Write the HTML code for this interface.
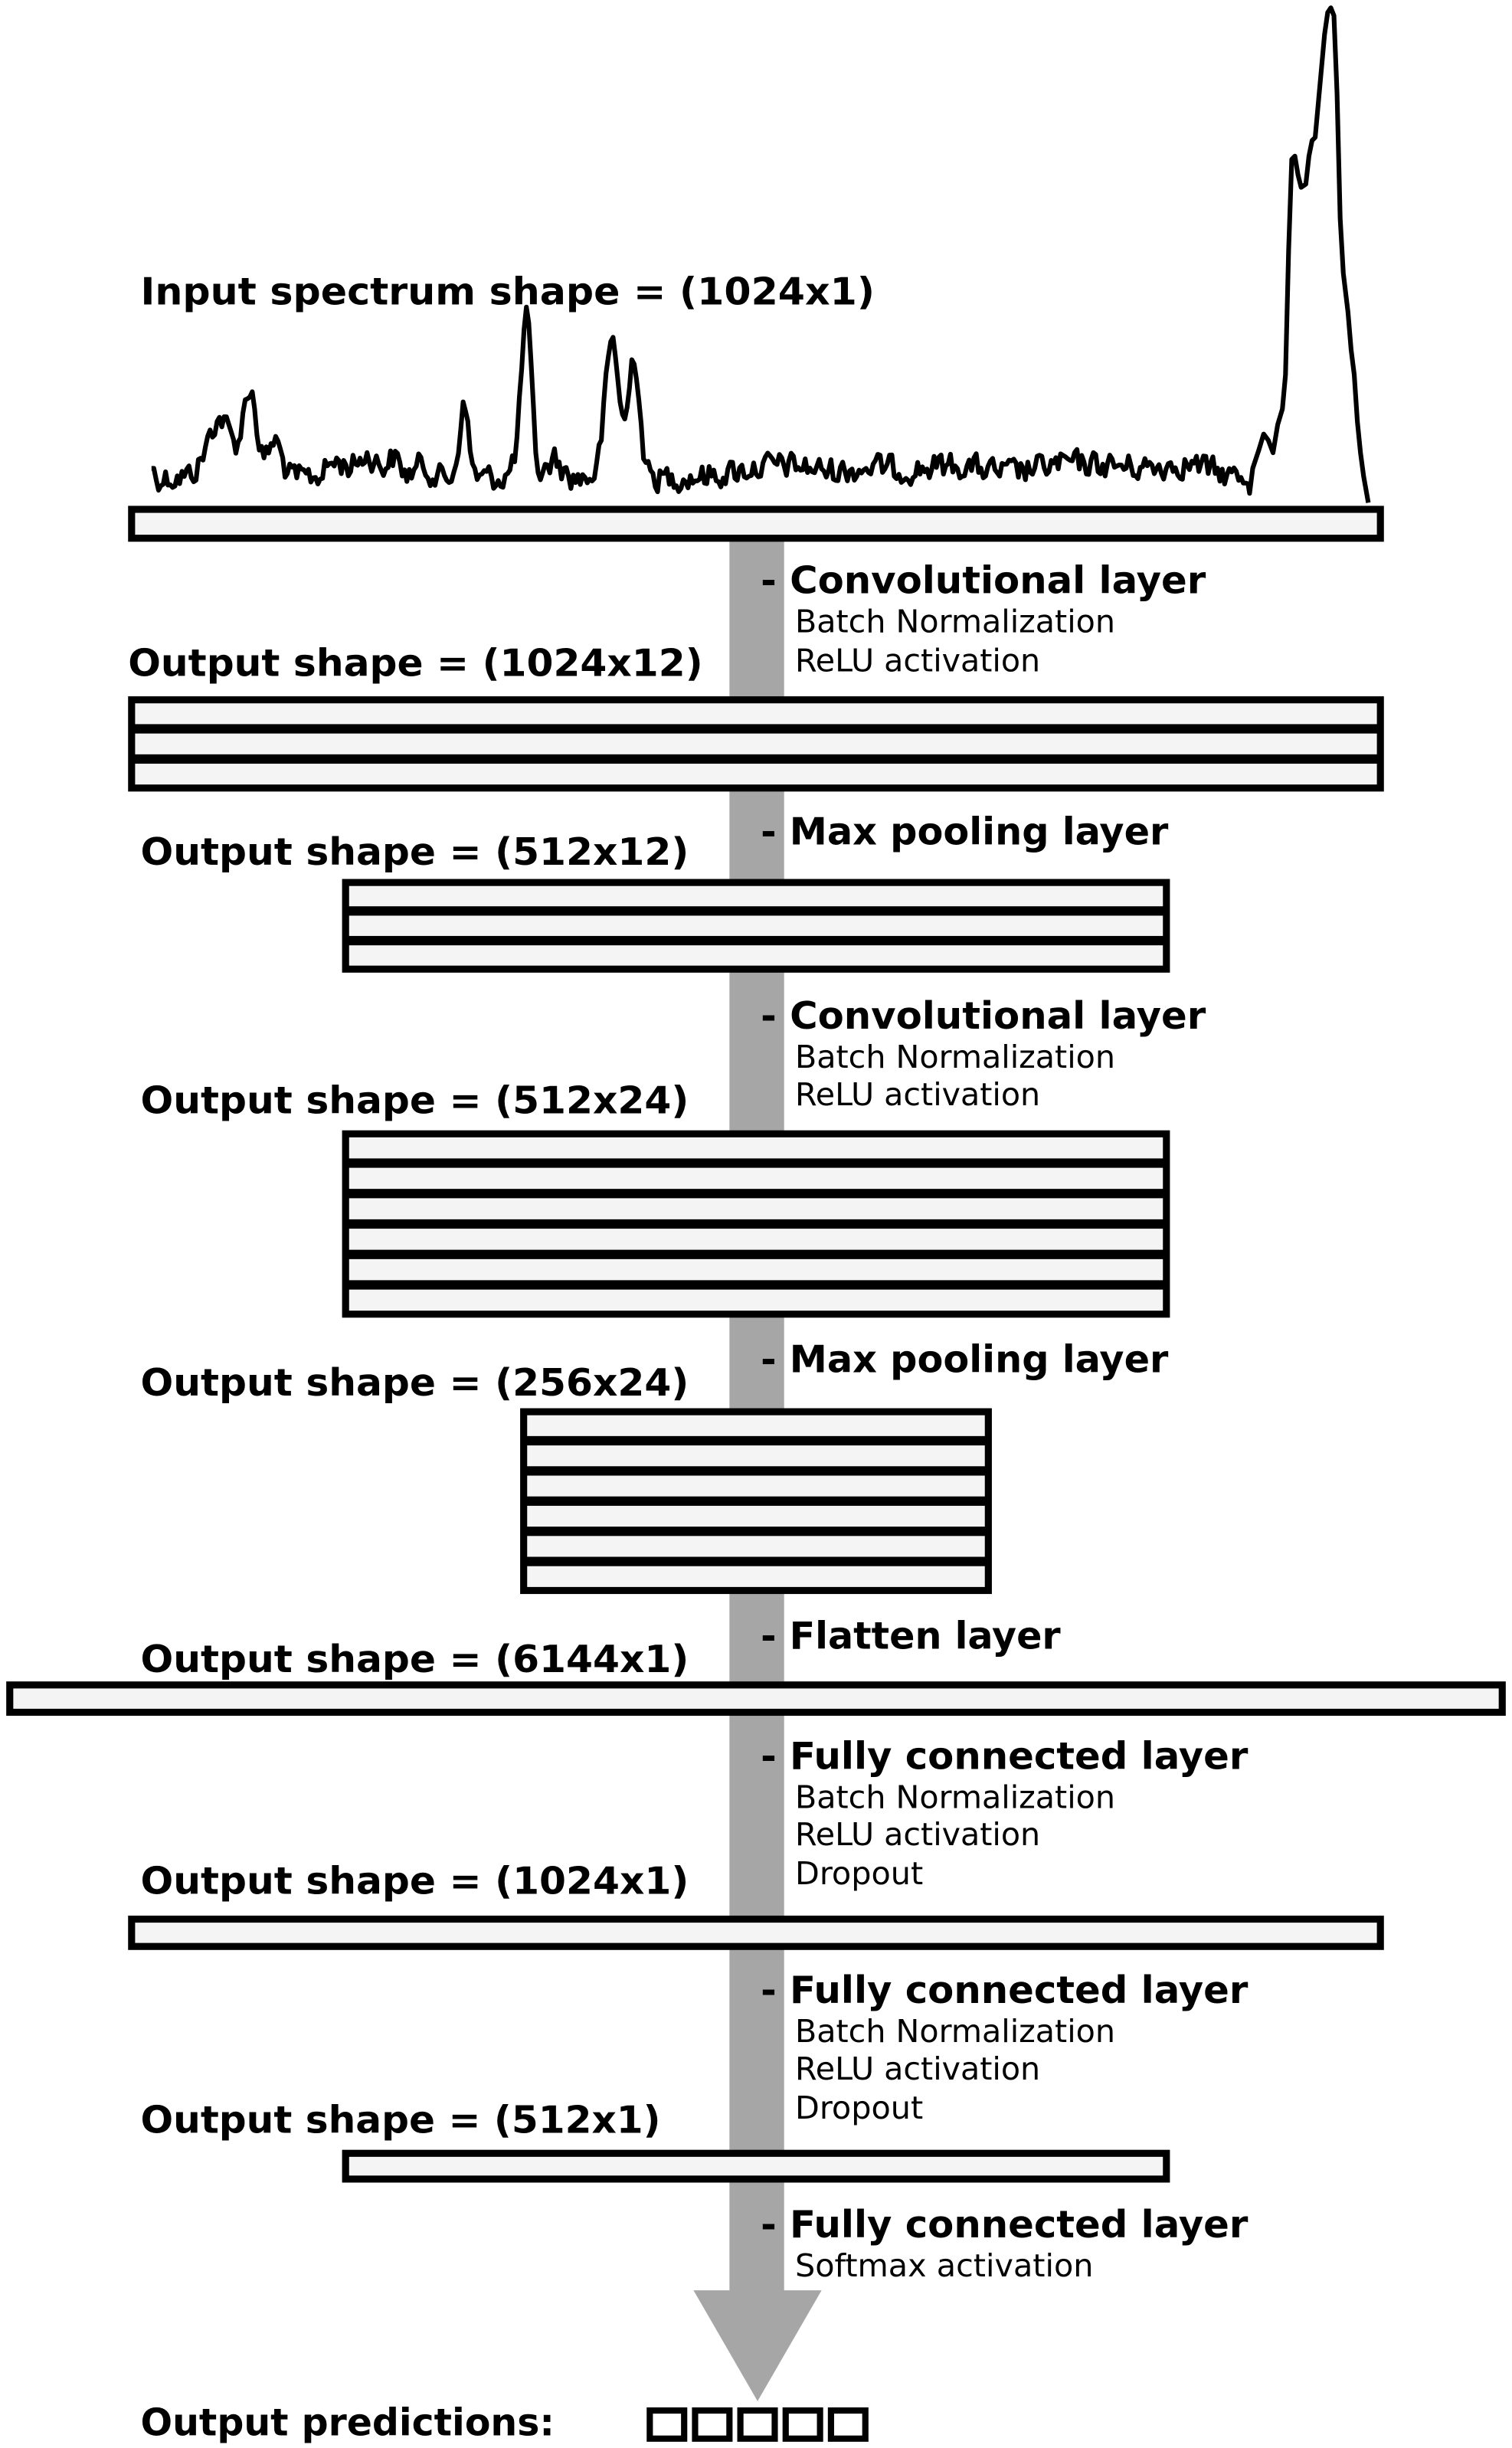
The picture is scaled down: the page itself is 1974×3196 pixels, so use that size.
<!DOCTYPE html>
<html><head><meta charset="utf-8">
<style>
html,body{margin:0;padding:0;background:#fff;}
svg{display:block;}
.b{font-family:"DejaVu Sans","Liberation Sans",sans-serif;font-weight:bold;font-size:24px;fill:#000;}
.r{font-family:"DejaVu Sans","Liberation Sans",sans-serif;font-size:20px;fill:#000;}
</style></head>
<body>
<svg id="s" width="1974" height="3196" viewBox="0 0 968 1568" preserveAspectRatio="none" xmlns="http://www.w3.org/2000/svg">
<rect width="968" height="1568" fill="#fff"/>
<rect x="467" y="340" width="35" height="1130" fill="#a6a6a6"/>
<polygon points="444,1467 526,1467 485,1538" fill="#a6a6a6"/>
<path id="spec" d="" fill="none" stroke="#000" stroke-width="3" stroke-linejoin="round"/>
<text class="b" x="90" y="195" textLength="470" lengthAdjust="spacingAndGlyphs">Input spectrum shape = (1024x1)</text>
<g id="boxes"></g>

<text class="b" x="487" y="380" textLength="285" lengthAdjust="spacingAndGlyphs">- Convolutional layer</text>
<text class="r" x="509" y="405" textLength="205" lengthAdjust="spacingAndGlyphs">Batch Normalization</text>
<text class="r" x="509" y="430" textLength="157" lengthAdjust="spacingAndGlyphs">ReLU activation</text>
<text class="b" x="82" y="433" textLength="368" lengthAdjust="spacingAndGlyphs">Output shape = (1024x12)</text>

<text class="b" x="487" y="541" textLength="261" lengthAdjust="spacingAndGlyphs">- Max pooling layer</text>
<text class="b" x="90" y="554" textLength="351" lengthAdjust="spacingAndGlyphs">Output shape = (512x12)</text>

<text class="b" x="487" y="659" textLength="285" lengthAdjust="spacingAndGlyphs">- Convolutional layer</text>
<text class="r" x="509" y="684" textLength="205" lengthAdjust="spacingAndGlyphs">Batch Normalization</text>
<text class="r" x="509" y="708" textLength="157" lengthAdjust="spacingAndGlyphs">ReLU activation</text>
<text class="b" x="90" y="713" textLength="351" lengthAdjust="spacingAndGlyphs">Output shape = (512x24)</text>

<text class="b" x="487" y="879" textLength="261" lengthAdjust="spacingAndGlyphs">- Max pooling layer</text>
<text class="b" x="90" y="894" textLength="351" lengthAdjust="spacingAndGlyphs">Output shape = (256x24)</text>

<text class="b" x="487" y="1056" textLength="192" lengthAdjust="spacingAndGlyphs">- Flatten layer</text>
<text class="b" x="90" y="1071" textLength="351" lengthAdjust="spacingAndGlyphs">Output shape = (6144x1)</text>

<text class="b" x="487" y="1133" textLength="312" lengthAdjust="spacingAndGlyphs">- Fully connected layer</text>
<text class="r" x="509" y="1158" textLength="205" lengthAdjust="spacingAndGlyphs">Batch Normalization</text>
<text class="r" x="509" y="1182" textLength="157" lengthAdjust="spacingAndGlyphs">ReLU activation</text>
<text class="r" x="509" y="1207" textLength="82" lengthAdjust="spacingAndGlyphs">Dropout</text>
<text class="b" x="90" y="1213" textLength="351" lengthAdjust="spacingAndGlyphs">Output shape = (1024x1)</text>

<text class="b" x="487" y="1283" textLength="312" lengthAdjust="spacingAndGlyphs">- Fully connected layer</text>
<text class="r" x="509" y="1308" textLength="205" lengthAdjust="spacingAndGlyphs">Batch Normalization</text>
<text class="r" x="509" y="1332" textLength="157" lengthAdjust="spacingAndGlyphs">ReLU activation</text>
<text class="r" x="509" y="1357" textLength="82" lengthAdjust="spacingAndGlyphs">Dropout</text>
<text class="b" x="90" y="1366" textLength="333" lengthAdjust="spacingAndGlyphs">Output shape = (512x1)</text>

<text class="b" x="487" y="1433" textLength="312" lengthAdjust="spacingAndGlyphs">- Fully connected layer</text>
<text class="r" x="509" y="1458" textLength="191" lengthAdjust="spacingAndGlyphs">Softmax activation</text>

<text class="b" x="90" y="1560" textLength="265" lengthAdjust="spacingAndGlyphs">Output predictions:</text>
<g fill="none" stroke="#000" stroke-width="4">
<rect x="416" y="1544" width="22" height="18"/>
<rect x="445" y="1544" width="22" height="18"/>
<rect x="474" y="1544" width="22" height="18"/>
<rect x="503" y="1544" width="22" height="18"/>
<rect x="532" y="1544" width="22" height="18"/>
</g>
</svg>
<script>
(function(){
var NS="http://www.w3.org/2000/svg";
var g=document.getElementById("boxes");
function box(x0,x1,y0,y1,n){
  var b=4.5,s=6;
  var r=document.createElementNS(NS,"rect");
  r.setAttribute("x",x0);r.setAttribute("y",y0);r.setAttribute("width",x1-x0);r.setAttribute("height",y1-y0);r.setAttribute("fill","#000");
  g.appendChild(r);
  var H=y1-y0,h=(H-2*b-(n-1)*s)/n;
  for(var i=0;i<n;i++){
    var q=document.createElementNS(NS,"rect");
    q.setAttribute("x",x0+b);q.setAttribute("y",y0+b+i*(h+s));q.setAttribute("width",x1-x0-2*b);q.setAttribute("height",h);q.setAttribute("fill","#f4f4f4");
    g.appendChild(q);
  }
}
box(82,886,324,347,1);
box(82,886,446,507,3);
box(219,749,563,623,3);
box(219,749,724,844,6);
box(333,635,902,1021,6);
box(4,964,1077,1099,1);
box(82,886,1227,1249,1);
box(219,749,1377,1398,1);
var seed=12345;function rnd(){seed=(seed*1103515245+12345)%2147483648;return seed/2147483648;}
var peaks=[[140,7,30],[160,4,50],[176,4,22],[150,14,10],[215,6,10],[235,7,14],[252,4,12],[297,3,45],[270,5,8],[337,3.2,102],[392,4.5,88],[406,3.5,78],[355,4,12],[330,3,8],[500,25,8],[560,15,6],[610,20,8],[680,20,8],[720,20,6],[760,15,8]];
var pts=[],prev=0;
for(var x=97;x<=806;x+=1.5){
  var y=306;
  for(var i=0;i<peaks.length;i++){var p=peaks[i];y-=p[2]*Math.exp(-Math.pow((x-p[0])/p[1],2)/2);}
  var n=(rnd()-0.5)*22;prev=prev*0.3+n*0.7;y+=prev;
  if(x<100)y=300;
  pts.push([x,y]);
}
var hand=[[800,316],[802,300],[806,288],[809,278],[812,282],[815,290],[818,272],[821,262],[823,240],[825,160],[827,102],[829,100],[831,112],[833,120],[836,118],[838,100],[840,90],[842,88],[845,55],[848,22],[850,8],[852,5],[854,10],[856,60],[858,140],[860,175],[863,200],[865,224],[867,240],[869,270],[871,290],[873,305],[876,322]];
pts=pts.filter(function(p){return p[0]<800;}).concat(hand);
var d="M"+pts.map(function(p){return p[0].toFixed(1)+","+p[1].toFixed(1);}).join(" L");
document.getElementById("spec").setAttribute("d",d);
})();
</script>
</body></html>
